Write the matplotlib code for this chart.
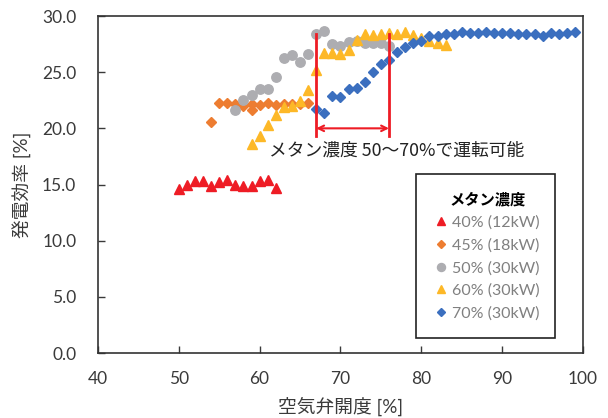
import matplotlib
matplotlib.use('Agg')
import matplotlib.pyplot as plt
from matplotlib.patches import Rectangle

plt.rcParams['font.family'] = ['Lato', 'Noto Sans CJK JP', 'DejaVu Sans']

# ===================== Data =====================
x40 = [50, 51, 52, 53, 54, 55, 56, 57, 58, 59, 60, 61, 62]
y40 = [14.6, 15.0, 15.3, 15.3, 14.9, 15.2, 15.4, 15.0, 14.9, 14.9, 15.3, 15.4, 14.7]

x45 = [54, 55, 56, 57, 58, 59, 59, 60, 61, 62, 63, 64, 65, 66]
y45 = [20.6, 22.3, 22.3, 22.2, 22.0, 22.2, 21.6, 22.1, 22.3, 22.1, 22.2, 22.2, 22.2, 22.3]

x50 = [57, 58, 59, 60, 61, 62, 63, 64, 65, 66, 67, 68, 69, 70, 71, 72, 73, 74, 75, 76]
y50 = [21.6, 22.5, 23.0, 23.5, 23.5, 24.6, 26.3, 26.5, 25.9, 26.6,
       28.4, 28.7, 27.5, 27.3, 27.7, 27.8, 27.6, 27.6, 27.6, 27.3]

x60 = list(range(59, 84))
y60 = [18.6, 19.3, 20.3, 21.2, 21.9, 22.0, 22.4, 23.4, 25.2, 26.7, 26.7, 26.6, 27.0,
       27.9, 28.4, 28.3, 28.4, 28.5, 28.4, 28.6, 28.3, 28.0, 27.8, 27.6, 27.4]

x70 = list(range(67, 100))
y70 = [21.7, 21.4, 22.9, 22.8, 23.5, 23.6, 24.1, 25.0, 25.7, 26.1, 26.8, 27.2, 27.6,
       27.8, 28.2, 28.2, 28.4, 28.4, 28.6, 28.5, 28.5, 28.6, 28.5, 28.5, 28.5, 28.4,
       28.4, 28.4, 28.2, 28.5, 28.4, 28.5, 28.6]

labels = ['40% (12kW)', '45% (18kW)', '50% (30kW)', '60% (30kW)', '70% (30kW)']

# operable range annotation
range_lo, range_hi = 67, 76
range_top, range_bottom = 28.4, 19.3
arrow_y = 20.0
range_text = 'メタン濃度 50〜70%で運転可能'

# ===================== Figure =====================
fig = plt.figure(figsize=(6.08, 4.18), dpi=100)
ax = fig.add_axes([0.161, 0.1555, 0.798, 0.8062])

ax.plot(x40, y40, ls='none', marker='^', ms=6.5, color='#EE1C25', label=labels[0])
ax.plot(x45, y45, ls='none', marker='D', ms=4.6, color='#ED7D31', label=labels[1])
ax.plot(x50, y50, ls='none', marker='o', ms=6.8, color='#ADADB1', label=labels[2])
ax.plot(x60, y60, ls='none', marker='^', ms=6.5, color='#FDB827', label=labels[3])
ax.plot(x70, y70, ls='none', marker='D', ms=4.6, color='#3B6FBF', label=labels[4])

red = '#EE1C25'
ax.plot([range_lo, range_lo], [range_bottom, range_top], color=red, lw=2, zorder=5)
ax.plot([range_hi, range_hi], [range_bottom, range_top], color=red, lw=2, zorder=5)
ax.annotate('', xy=(range_lo, arrow_y), xytext=(range_hi, arrow_y),
            arrowprops=dict(arrowstyle='<->', color=red, lw=1.5,
                            shrinkA=0, shrinkB=0, mutation_scale=10), zorder=5)
ax.text(61.1, 18.0, range_text, fontsize=12.8, ha='left', va='center',
        family=['Noto Sans CJK JP'], color='#222222')

ax.set_xlim(40, 100)
ax.set_ylim(0, 30)
ax.set_xticks(range(40, 101, 10))
ax.set_yticks([0, 5, 10, 15, 20, 25, 30])
ax.set_yticklabels([f'{v:.1f}' for v in [0, 5, 10, 15, 20, 25, 30]])
ax.tick_params(direction='in', length=5, width=1, labelsize=12.5,
               colors='#3A3A3A')
ax.tick_params(axis='y', pad=15.5)
ax.tick_params(axis='x', pad=13)
for s in ax.spines.values():
    s.set_color('#333333')
    s.set_linewidth(1.2)

ax.set_xlabel('空気弁開度 [%]', fontsize=13.5, color='#3A3A3A', labelpad=7)
ax.set_ylabel('発電効率 [%]', fontsize=13.5, color='#3A3A3A', labelpad=7)

# legend box
box = Rectangle((0.656, 0.0445), 0.286, 0.487, transform=ax.transAxes,
                facecolor='white', edgecolor='#222222', lw=1.2, zorder=6)
ax.add_patch(box)
leg = ax.legend(loc='center', bbox_to_anchor=(0.803, 0.288), frameon=False,
                title='メタン濃度', fontsize=11.5, labelspacing=0.52,
                handlelength=0.8, handletextpad=0.3, markerscale=0.85,
                title_fontproperties={'weight': 'bold', 'size': 11,
                                      'family': ['Noto Sans CJK JP']})
leg.set_zorder(7)
for t in leg.get_texts():
    t.set_color('#808080')

fig.savefig('out.png', dpi=100)
